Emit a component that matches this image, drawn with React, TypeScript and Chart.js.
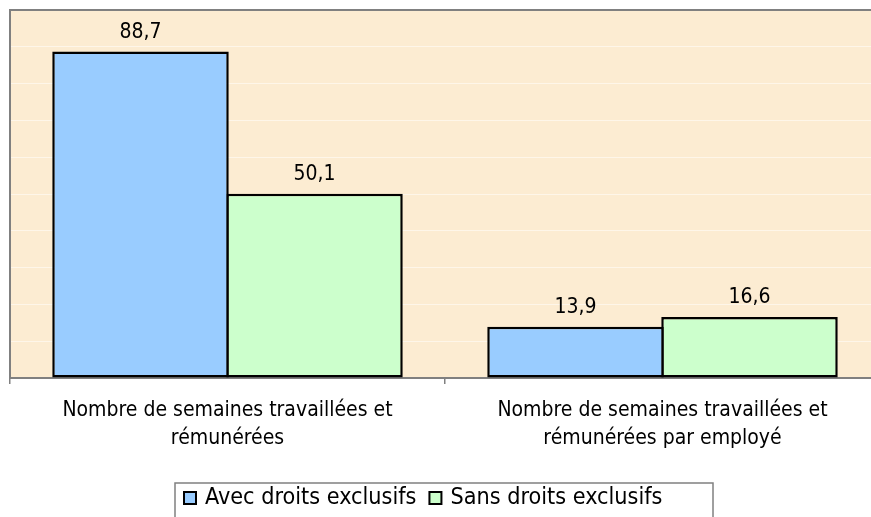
import React, { useEffect, useRef } from "react";
import { Chart, registerables } from "chart.js";

Chart.register(...registerables);

const categories: string[][] = [
  ["Nombre de semaines travaillées et", "rémunérées"],
  ["Nombre de semaines travaillées et", "rémunérées par employé"],
];
const seriesNames = ["Avec droits exclusifs", "Sans droits exclusifs"];
const avecValues = [88.7, 13.9];
const sansValues = [50.1, 16.6];
const seriesColors = ["#99CCFF", "#CCFFCC"];
const yMin = 0;
const yMax = 100;
const yStep = 10;

const FONT = "'DejaVu Sans Condensed', 'DejaVu Sans', sans-serif";
const BAR_BORDER = 2.5;

const fmt = (v: number) => v.toFixed(1).replace(".", ",");

const plotPlugin = {
  id: "plotDecor",
  beforeDraw(chart: any) {
    const { ctx, chartArea } = chart;
    ctx.save();
    ctx.fillStyle = "#FCECD2";
    ctx.fillRect(chartArea.left, chartArea.top, chartArea.right - chartArea.left, chartArea.bottom - chartArea.top);
    ctx.restore();
  },
  afterDatasetsDraw(chart: any) {
    const { ctx, chartArea } = chart;
    ctx.save();
    // plot border (left + top)
    ctx.strokeStyle = "#808080";
    ctx.lineWidth = 2;
    ctx.beginPath();
    ctx.moveTo(chartArea.left, chartArea.bottom);
    ctx.lineTo(chartArea.left, chartArea.top);
    ctx.lineTo(chartArea.right, chartArea.top);
    ctx.lineTo(chartArea.right, chartArea.bottom);
    ctx.stroke();
    // value labels
    ctx.fillStyle = "#000";
    ctx.font = `21px ${FONT}`;
    ctx.textAlign = "center";
    ctx.textBaseline = "alphabetic";
    chart.data.datasets.forEach((ds: any, di: number) => {
      const meta = chart.getDatasetMeta(di);
      meta.data.forEach((bar: any, i: number) => {
        ctx.fillText(fmt(ds.data[i]), bar.x, bar.y - 14);
      });
    });
    // legend
    const boxLeft = 175;
    const boxTop = 483;
    const boxRight = 713;
    ctx.strokeStyle = "#808080";
    ctx.lineWidth = 1.5;
    ctx.strokeRect(boxLeft, boxTop, boxRight - boxLeft, 60);
    ctx.font = `23.2px ${FONT}`;
    ctx.textAlign = "left";
    let x = boxLeft + 8;
    chart.data.datasets.forEach((ds: any) => {
      ctx.fillStyle = ds.backgroundColor;
      ctx.fillRect(x + 1, 492, 12, 12);
      ctx.strokeStyle = "#000";
      ctx.lineWidth = 2;
      ctx.strokeRect(x + 1, 492, 12, 12);
      ctx.fillStyle = "#000";
      ctx.fillText(ds.label, x + 22, 504);
      x += 22 + ctx.measureText(ds.label).width + 12;
    });
    ctx.restore();
  },
};

export default function App() {
  const ref = useRef<HTMLCanvasElement | null>(null);
  useEffect(() => {
    if (!ref.current) return;
    const chart = new Chart(ref.current, {
      type: "bar",
      data: {
        labels: categories,
        datasets: [
          {
            label: seriesNames[0],
            data: avecValues,
            backgroundColor: seriesColors[0],
            borderColor: "#000",
            borderWidth: BAR_BORDER,
            borderSkipped: false,
          },
          {
            label: seriesNames[1],
            data: sansValues,
            backgroundColor: seriesColors[1],
            borderColor: "#000",
            borderWidth: BAR_BORDER,
            borderSkipped: false,
          },
        ],
      },
      options: {
        responsive: false,
        animation: false,
        devicePixelRatio: 1,
        layout: { padding: { left: 10, top: 10, right: 2, bottom: 0 } },
        datasets: {
          bar: { categoryPercentage: 0.8, barPercentage: (174 + BAR_BORDER) / 174 },
        },
        plugins: {
          legend: { display: false },
          tooltip: { enabled: false },
        },
        scales: {
          x: {
            offset: true,
            grid: {
              offset: true,
              drawOnChartArea: false,
              drawTicks: true,
              tickLength: 6,
              color: "#808080",
              lineWidth: 1.5,
            },
            border: { display: true, color: "#808080", width: 2 },
            ticks: {
              color: "#000",
              font: { family: FONT, size: 21, lineHeight: 1.35 },
              padding: 12,
              maxRotation: 0,
              autoSkip: false,
            },
            afterFit: (scale: any) => {
              scale.height = 139;
            },
          },
          y: {
            min: yMin,
            max: yMax,
            ticks: { display: false, stepSize: yStep },
            grid: {
              color: "rgba(255,255,255,0.5)",
              lineWidth: 1,
              drawTicks: false,
            },
            border: { display: false },
            afterFit: (scale: any) => {
              scale.width = 0;
            },
          },
        },
      },
      plugins: [plotPlugin],
    });
    return () => chart.destroy();
  }, []);
  return (
    <div
      style={{
        position: "absolute",
        left: 0,
        top: 0,
        width: 871,
        height: 517,
        overflow: "hidden",
        background: "#fff",
      }}
    >
      <canvas ref={ref} width={882} height={517} />
    </div>
  );
}
